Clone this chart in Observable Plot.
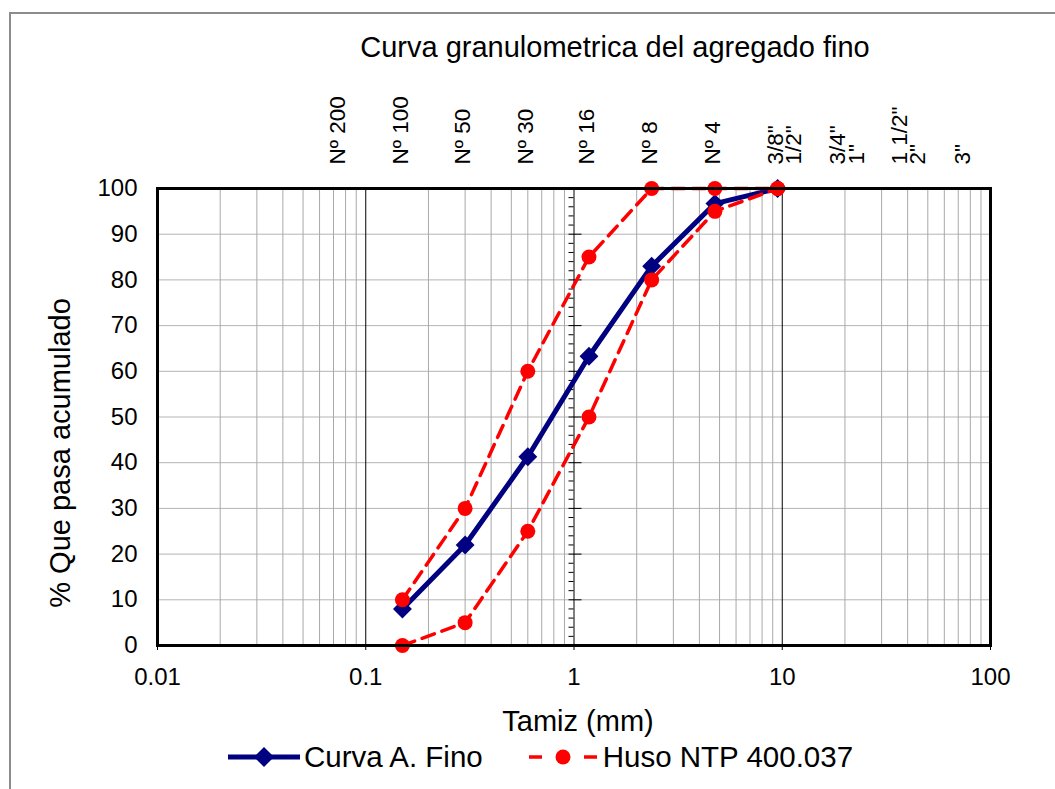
<!DOCTYPE html>
<html>
<head>
<meta charset="utf-8">
<script src="https://cdn.jsdelivr.net/npm/d3@7"></script>
<script src="https://cdn.jsdelivr.net/npm/@observablehq/plot@0.6"></script>
<style>
  html, body { margin: 0; padding: 0; background: #fff; }
  #wrap { position: relative; width: 1055px; height: 789px; overflow: hidden; font-family: "Liberation Sans", Arial, sans-serif; color: #000; }
  #border { position: absolute; left: 9px; top: 12px; width: 2000px; height: 2000px; border-top: 2px solid #8c8c8c; border-left: 2px solid #8c8c8c; }
  #chart { position: absolute; left: 0; top: 0; }
  .t { position: absolute; white-space: nowrap; line-height: 1; }
  #title { left: 115px; width: 1000px; top: 33px; text-align: center; font-size: 29px; }
  #xtitle { left: 378px; width: 400px; top: 707px; text-align: center; font-size: 29px; }
  #ytitle { left: 60px; top: 453px; font-size: 29px; transform: translate(-50%, -50%) rotate(-90deg); }
  #legend { position: absolute; left: 228px; top: 742px; display: flex; align-items: center; font-size: 29.5px; line-height: 1; white-space: nowrap; }
  #legend svg { display: block; }
</style>
</head>
<body>
<div id="wrap">
  <div id="border"></div>
  <div id="chart"></div>
  <div id="title" class="t">Curva granulometrica del agregado fino</div>
  <div id="xtitle" class="t">Tamiz (mm)</div>
  <div id="ytitle" class="t">% Que pasa acumulado</div>
  <div id="legend"></div>
</div>
<script>
// ---- Data ----
const tamiz = [0.15, 0.3, 0.6, 1.18, 2.36, 4.75, 9.5];          // abertura (mm)
const curvaFino = [8, 22, 41.3, 63.3, 83, 96.7, 100];          // Curva A. Fino
const husoSup = [10, 30, 60, 85, 100, 100, 100];               // Huso NTP 400.037 (límite superior)
const husoInf = [0, 5, 25, 50, 80, 95, 100];                   // Huso NTP 400.037 (límite inferior)

const sieveX = [0.075, 0.15, 0.3, 0.6, 1.18, 2.36, 4.75, 9.5, 19, 37.5, 75];
const sieveLabels = ["Nº 200", "Nº 100", "Nº 50", "Nº 30", "Nº 16", "Nº 8", "Nº 4",
                     "3/8\"\n1/2\"", "3/4\"\n1\"", "1 1/2\"\n2\"", "3\""];

const xTicks = [0.01, 0.1, 1, 10, 100];
const xTickLabels = ["0.01", "0.1", "1", "10", "100"];
const yTicks = [0, 10, 20, 30, 40, 50, 60, 70, 80, 90, 100];
const yTickLabels = ["0", "10", "20", "30", "40", "50", "60", "70", "80", "90", "100"];
const seriesNames = ["Curva A. Fino", "Huso NTP 400.037"];

// grid helpers (axis structure, not data)
const xMajorGrid = [0.1, 1, 10];
const xMinorGrid = [];
for (const dec of [0.01, 0.1, 1, 10]) for (let k = 2; k <= 9; k++) xMinorGrid.push(+(k * dec).toPrecision(3));
const yGrid = yTicks.slice(1, -1);
const yMinor = [];
for (let v = 2; v < 100; v += 2) if (v % 10 !== 0) yMinor.push(v);
const axisCross = 1;

const table = (ys) => tamiz.map((x, i) => ({x, y: ys[i]}));
const curva = table(curvaFino);
const sup = table(husoSup);
const inf = table(husoInf);
const labels = sieveX.map((x, i) => ({x, text: sieveLabels[i]}));

const NAVY = "#000080", RED = "#ff0000";
const dash = "13,8";

const plot = Plot.plot({
  width: 1055,
  height: 700,
  marginLeft: 157,
  marginRight: 65,
  marginTop: 188,
  marginBottom: 55,
  style: {background: "transparent", fontFamily: "'Liberation Sans', Arial, sans-serif", fontSize: "24px", color: "#000", overflow: "visible"},
  x: {type: "log", domain: [0.01, 100], ticks: xTicks, tickFormat: (d) => xTickLabels[xTicks.indexOf(d)], tickSize: 5, tickPadding: 17, label: null},
  y: {domain: [0, 100], ticks: yTicks, tickFormat: (d) => yTickLabels[yTicks.indexOf(d)], tickSize: 0, tickPadding: 20, label: null},
  marks: [
    Plot.ruleY(yGrid, {stroke: "#b4b4b4", strokeWidth: 1}),
    Plot.ruleX(xMinorGrid, {stroke: "#a8a8a8", strokeWidth: 1}),
    Plot.ruleX(xMajorGrid, {stroke: "#000", strokeWidth: 1}),
    Plot.ruleY(yMinor, {y: (d) => d, x1: () => axisCross, x2: () => axisCross, insetLeft: -5, stroke: "#000", strokeWidth: 1}),
    Plot.ruleY(yTicks, {y: (d) => d, x1: () => axisCross, x2: () => axisCross, insetLeft: -5, insetRight: -8, stroke: "#000", strokeWidth: 1}),
    Plot.line(curva, {x: "x", y: "y", stroke: NAVY, strokeWidth: 5}),
    Plot.dot(curva, {x: "x", y: "y", symbol: "diamond2", r: 8.5, fill: NAVY, stroke: "none"}),
    Plot.line(sup, {x: "x", y: "y", stroke: RED, strokeWidth: 3.5, strokeDasharray: dash}),
    Plot.line(inf, {x: "x", y: "y", stroke: RED, strokeWidth: 3.5, strokeDasharray: dash}),
    Plot.dot(sup, {x: "x", y: "y", r: 7.5, fill: RED, stroke: "none"}),
    Plot.dot(inf, {x: "x", y: "y", r: 7.5, fill: RED, stroke: "none"}),
    Plot.frame({stroke: "#000", strokeWidth: 3}),
    Plot.text(labels, {x: "x", text: "text", frameAnchor: "top", rotate: -90, textAnchor: "start", lineAnchor: "top", lineHeight: 0.82, dy: -24, dx: -8, fontSize: 22.5, fill: "#000"})
  ]
});
document.getElementById("chart").appendChild(plot);

// ---- Legend ----
const legend = document.getElementById("legend");
function swatch(color, width, sw, dasharray, marker) {
  const ns = "http://www.w3.org/2000/svg";
  const s = document.createElementNS(ns, "svg");
  s.setAttribute("width", width); s.setAttribute("height", 24);
  const l = document.createElementNS(ns, "line");
  l.setAttribute("x1", 0); l.setAttribute("x2", width); l.setAttribute("y1", 12); l.setAttribute("y2", 12);
  l.setAttribute("stroke", color); l.setAttribute("stroke-width", sw);
  if (dasharray) l.setAttribute("stroke-dasharray", dasharray);
  s.appendChild(l);
  const cx = width / 2;
  let m;
  if (marker === "diamond") {
    m = document.createElementNS(ns, "path");
    m.setAttribute("d", `M${cx},2L${cx + 10},12L${cx},22L${cx - 10},12Z`);
  } else {
    m = document.createElementNS(ns, "circle");
    m.setAttribute("cx", cx); m.setAttribute("cy", 12); m.setAttribute("r", 7.5);
  }
  m.setAttribute("fill", color);
  s.appendChild(m);
  return s;
}
function item(sw, text, gap, after) {
  const d = document.createElement("div");
  d.style.display = "flex"; d.style.alignItems = "center"; d.style.marginRight = after + "px";
  d.appendChild(sw);
  const t = document.createElement("span");
  t.textContent = text; t.style.marginLeft = gap + "px";
  d.appendChild(t);
  return d;
}
legend.appendChild(item(swatch(NAVY, 72, 5, null, "diamond"), seriesNames[0], 4, 46));
legend.appendChild(item(swatch(RED, 68, 3.5, "13,42", "circle"), seriesNames[1], 6, 0));
</script>
</body>
</html>
